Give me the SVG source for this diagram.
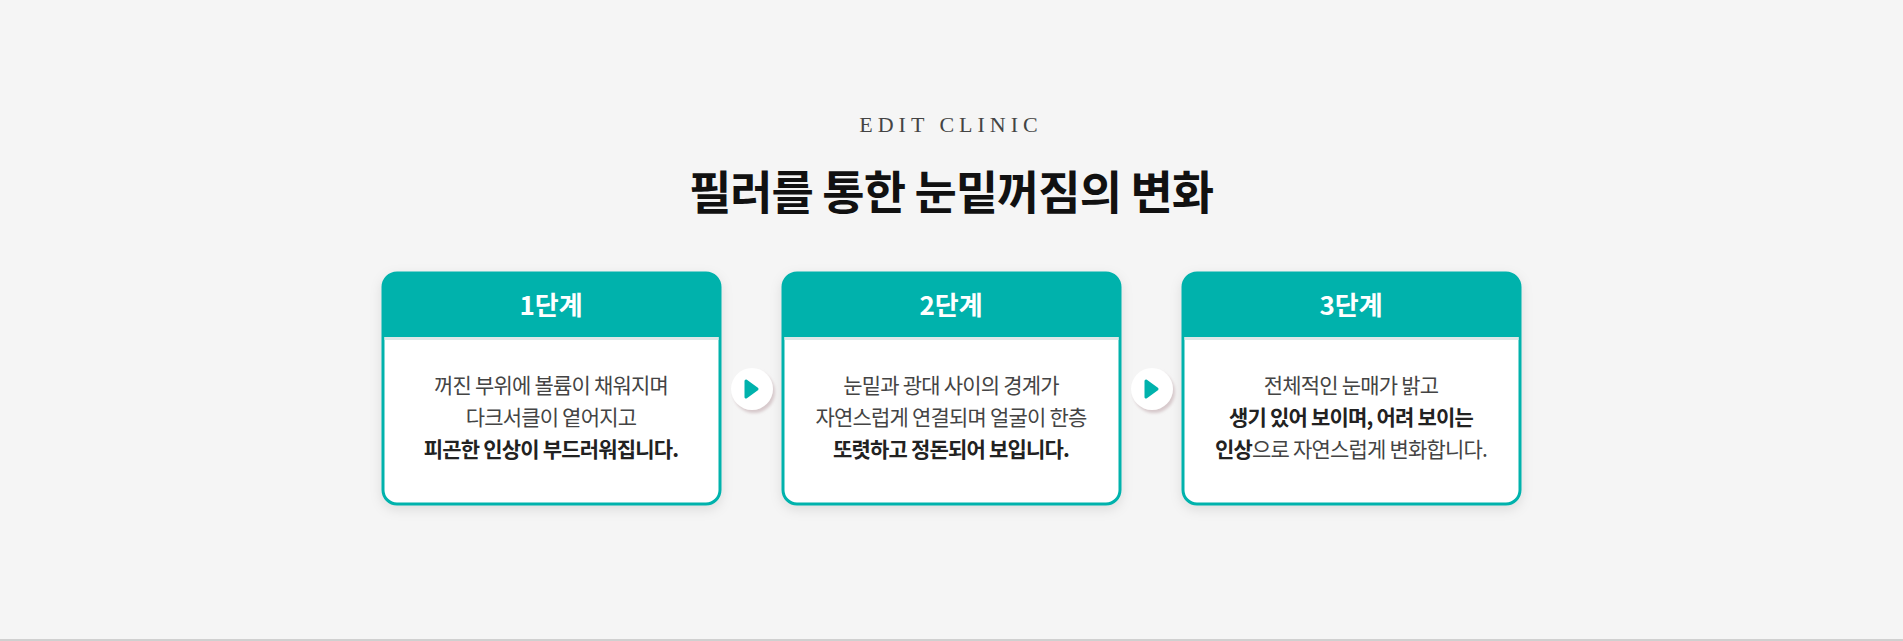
<svg xmlns="http://www.w3.org/2000/svg" width="1903" height="641" viewBox="0 0 1903 641">
<style>
.k{font-family:"Noto Sans CJK KR","Noto Sans",sans-serif}
.hd{font-size:26px;font-weight:700;fill:#fff;text-anchor:middle}
.bd{font-size:21px;fill:#444;text-anchor:middle;letter-spacing:-0.8px}
.b{font-weight:700;fill:#222}
.card{fill:#fff;stroke:#00B2AC;stroke-width:3}
</style>
<defs>
<filter id="sh" x="-20%" y="-20%" width="140%" height="140%"><feDropShadow dx="0" dy="4" stdDeviation="6" flood-color="#000" flood-opacity="0.1"/></filter>
<filter id="sh2" x="-50%" y="-50%" width="200%" height="200%"><feDropShadow dx="2" dy="3" stdDeviation="1.5" flood-color="#c9b5b9" flood-opacity="0.7"/></filter>
</defs>
<rect width="1903" height="641" fill="#f5f5f5"/>
<line x1="0" y1="640" x2="1903" y2="640" stroke="#d0d0d0" stroke-width="2"/>
<text x="951" y="132" text-anchor="middle" font-family="Liberation Serif,serif" font-size="22" letter-spacing="5" fill="#444">EDIT CLINIC</text>
<text x="951" y="209" text-anchor="middle" class="k" font-size="46" font-weight="700" fill="#111" letter-spacing="-1">필러를 통한 눈밑꺼짐의 변화</text>
<g id="card1">
<rect class="card" x="383" y="273" width="337" height="231" rx="14" filter="url(#sh)"/>
<path d="M383,337 V287 a14,14 0 0 1 14,-14 H706 a14,14 0 0 1 14,14 V337 Z" fill="#00B2AC"/>
<rect x="384.5" y="337" width="334" height="3" fill="#dfe7e7"/>
<text class="k hd" x="551" y="315">1단계</text>
<text class="k bd" x="551" y="393">꺼진 부위에 볼륨이 채워지며</text>
<text class="k bd" x="551" y="425">다크서클이 옅어지고</text>
<text class="k bd b" x="551" y="457">피곤한 인상이 부드러워집니다.</text>
</g>
<g id="card2">
<rect class="card" x="783" y="273" width="337" height="231" rx="14" filter="url(#sh)"/>
<path d="M783,337 V287 a14,14 0 0 1 14,-14 H1106 a14,14 0 0 1 14,14 V337 Z" fill="#00B2AC"/>
<rect x="784.5" y="337" width="334" height="3" fill="#dfe7e7"/>
<text class="k hd" x="951" y="315">2단계</text>
<text class="k bd" x="951" y="393">눈밑과 광대 사이의 경계가</text>
<text class="k bd" x="951" y="425">자연스럽게 연결되며 얼굴이 한층</text>
<text class="k bd b" x="951" y="457">또렷하고 정돈되어 보입니다.</text>
</g>
<g id="card3">
<rect class="card" x="1183" y="273" width="337" height="231" rx="14" filter="url(#sh)"/>
<path d="M1183,337 V287 a14,14 0 0 1 14,-14 H1506 a14,14 0 0 1 14,14 V337 Z" fill="#00B2AC"/>
<rect x="1184.5" y="337" width="334" height="3" fill="#dfe7e7"/>
<text class="k hd" x="1351" y="315">3단계</text>
<text class="k bd" x="1351" y="393">전체적인 눈매가 밝고</text>
<text class="k bd b" x="1351" y="425">생기 있어 보이며, 어려 보이는</text>
<text class="k bd" x="1351" y="457"><tspan class="b">인상</tspan>으로 자연스럽게 변화합니다.</text>
</g>
<g id="connectors">
<g id="arrow1"><circle cx="752" cy="389" r="21" fill="#fff" filter="url(#sh2)"/><path d="M746,381 L757,389 L746,397 Z" fill="#00B2AC" stroke="#00B2AC" stroke-width="3" stroke-linejoin="round"/></g>
<g id="arrow2"><circle cx="1152" cy="389" r="21" fill="#fff" filter="url(#sh2)"/><path d="M1146,381 L1157,389 L1146,397 Z" fill="#00B2AC" stroke="#00B2AC" stroke-width="3" stroke-linejoin="round"/></g>
</g>
</svg>
